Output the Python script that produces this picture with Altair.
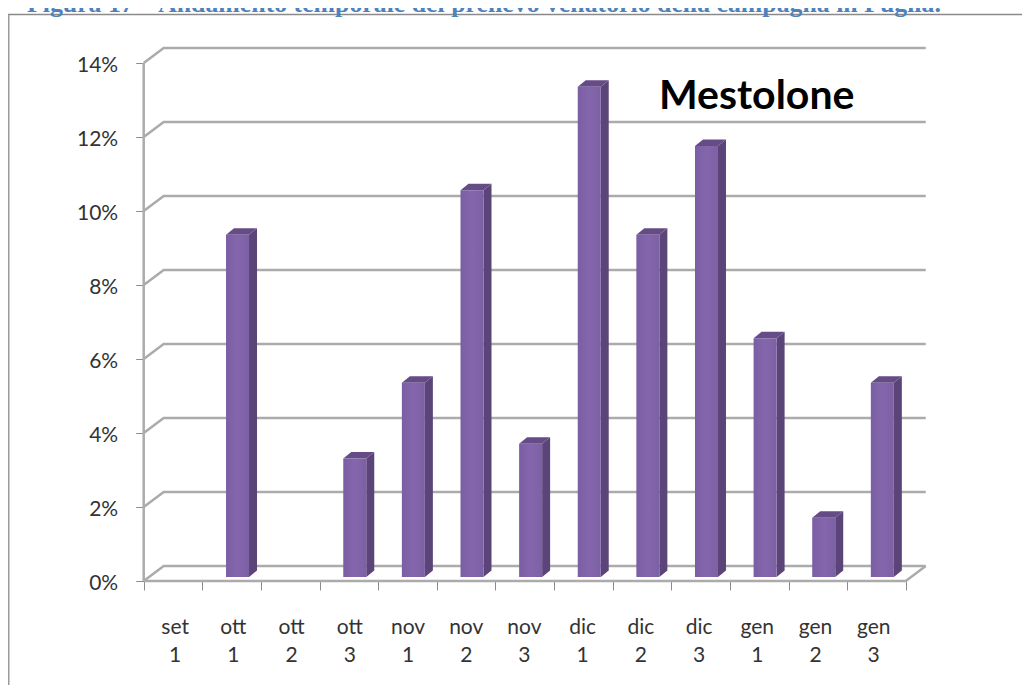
import altair as alt
import pandas as pd

# Data
months = ["set", "ott", "ott", "ott", "nov", "nov", "nov", "dic", "dic", "dic", "gen", "gen", "gen"]
decades = [1, 1, 2, 3, 1, 2, 3, 1, 2, 3, 1, 2, 3]
values = [0, 9.25, 0, 3.2, 5.25, 10.45, 3.6, 13.25, 9.25, 11.65, 6.45, 1.6, 5.25]
y_ticks = [0, 2, 4, 6, 8, 10, 12, 14]
title_text = "Figura 17 – Andamento temporale del prelievo venatorio della campagna in Puglia."
series_name = "Mestolone"

# Canvas and scale set-up (page pixels -> data units)
W, H = 1014, 677
ORIGIN_X, ORIGIN_Y, STEP_X, STEP_Y = 143.7, 581.0, 58.62, 37.0
PAGE = 8
u = lambda px: px / STEP_X
v = lambda px: px / STEP_Y
x_scale = alt.Scale(domain=[(PAGE - ORIGIN_X) / STEP_X, (PAGE + W - ORIGIN_X) / STEP_X], range=[0, W], nice=False, zero=False)
y_scale = alt.Scale(domain=[(ORIGIN_Y - PAGE - H) / STEP_Y, (ORIGIN_Y - PAGE) / STEP_Y], range=[H, 0], nice=False, zero=False)
N = len(values)
WALL_X, WALL_Y = u(20), v(15)
BAR_L, BAR_W, DEPTH_X, DEPTH_Y, BAR_BASE = u(23.7), u(23), u(8), v(6.5), v(4)
GREY = "#ABABAB"
X = alt.X("x:Q", scale=x_scale, title=None)
Y = alt.Y("y:Q", scale=y_scale, title=None, stack=False)

# Axes (ticks and y labels), no own marks beyond them
axes = alt.Chart(pd.DataFrame({"x": list(range(N + 1)), "y": [y_ticks[i % len(y_ticks)] for i in range(N + 1)]})).mark_point(opacity=0).encode(
    x=alt.X("x:Q", scale=x_scale, title=None, axis=alt.Axis(orient="bottom", offset=ORIGIN_Y - PAGE - H, values=list(range(N + 1)), labels=False,
                                                 domain=False, grid=False, tickColor="#8C8C8C", tickSize=9, tickWidth=1)),
    y=alt.Y("y:Q", scale=y_scale, title=None, axis=alt.Axis(orient="left", offset=PAGE - ORIGIN_X, values=y_ticks, labelExpr="datum.value + '%'",
                                                 domain=False, grid=False, tickColor="#8C8C8C", tickSize=8, tickWidth=1,
                                                 labelPadding=18, labelOffset=2, labelFont="Lato", labelFontSize=21, labelColor="#333333")),
)

# Back-wall gridlines with the diagonal on the side wall
grid_rows = []
for t in y_ticks:
    grid_rows += [{"g": t, "o": 0, "x": 0, "y": t}, {"g": t, "o": 1, "x": WALL_X, "y": t + WALL_Y}, {"g": t, "o": 2, "x": N + WALL_X, "y": t + WALL_Y}]
grid = alt.Chart(pd.DataFrame(grid_rows)).mark_line(color=GREY, strokeWidth=2.5).encode(x=X, y=Y, detail="g:N", order="o:Q")

# Floor front edge, right diagonal, left wall
edge_rows = [{"g": "front", "o": 0, "x": 0, "y": 0}, {"g": "front", "o": 1, "x": N, "y": 0}, {"g": "front", "o": 2, "x": N + WALL_X, "y": WALL_Y},
             {"g": "wall", "o": 0, "x": 0, "y": 0}, {"g": "wall", "o": 1, "x": 0, "y": y_ticks[-1]}]
edges = alt.Chart(pd.DataFrame(edge_rows)).mark_line(color=GREY, strokeWidth=2.5).encode(x=X, y=Y, detail="g:N", order="o:Q")

# 3D bars built from the values
front_rows, side_rows, top_rows = [], [], []
for i, val in enumerate(values):
    if val <= 0:
        continue
    l = i + BAR_L
    r = l + BAR_W
    base = BAR_BASE
    top = BAR_BASE + val
    front_rows.append({"x": l, "x2": r, "y": base, "y2": top})
    side_rows += [{"b": i, "x": r, "y": base, "y2": top}, {"b": i, "x": r + DEPTH_X, "y": base + DEPTH_Y, "y2": top + DEPTH_Y}]
    top_rows += [{"b": i, "x": l, "y": top, "y2": top},
                 {"b": i, "x": l + DEPTH_X, "y": top, "y2": top + DEPTH_Y},
                 {"b": i, "x": r, "y": top, "y2": top + DEPTH_Y},
                 {"b": i, "x": r + DEPTH_X, "y": top + DEPTH_Y, "y2": top + DEPTH_Y}]

side = alt.Chart(pd.DataFrame(side_rows)).mark_area(color="#5A4478", interpolate="linear").encode(
    x=X, y=Y, y2="y2:Q", detail="b:N")
top_face = alt.Chart(pd.DataFrame(top_rows)).mark_area(color="#654C86", interpolate="linear").encode(
    x=X, y=Y, y2="y2:Q", detail="b:N")
front = alt.Chart(pd.DataFrame(front_rows)).mark_rect(
    color=alt.Gradient(gradient="linear", x1=0, x2=1, y1=0, y2=0,
                       stops=[alt.GradientStop(offset=0, color="#7A5EA3"),
                              alt.GradientStop(offset=0.5, color="#8466AC"),
                              alt.GradientStop(offset=1, color="#7C60A4")])
).encode(x=X, x2="x2:Q", y=Y, y2="y2:Q")

# Two-line category labels
cat_df = pd.DataFrame({"x": [0.52 + i * 0.993 for i in range(N)], "y": [v(ORIGIN_Y - 634) for _ in months],
                       "label": [f"{m}\n{d}" for m, d in zip(months, decades)]})
cats = alt.Chart(cat_df).mark_text(font="Lato", fontSize=21, color="#333333", lineBreak="\n", lineHeight=28, baseline="alphabetic", align="center", dx=1).encode(
    x=X, y=Y, text="label:N")

# Frame, series name and clipped figure caption
frame_top = alt.Chart(pd.DataFrame({"a": [1]})).mark_rule(color="#8A8A8A", strokeWidth=1.5).encode(x=alt.value(0), x2=alt.value(W), y=alt.value(6.5))
frame_left = alt.Chart(pd.DataFrame({"a": [1]})).mark_rule(color="#9A9A9A", strokeWidth=1.5).encode(x=alt.value(0.75), y=alt.value(6.5), y2=alt.value(H))
name = alt.Chart(pd.DataFrame({"t": [series_name]})).mark_text(font="Lato", fontWeight="bold", fontSize=41, color="#000000", align="left", baseline="alphabetic").encode(
    x=alt.value(651), y=alt.value(100.5), text="t:N")
caption = alt.Chart(pd.DataFrame({"t": [title_text]})).mark_text(font="Liberation Serif", fontWeight="bold", fontSize=25.8, color="#4F81BD", align="left", baseline="alphabetic").encode(
    x=alt.value(19), y=alt.value(3.5), text="t:N")

chart = alt.layer(axes, grid, edges, side, top_face, front, cats, frame_top, frame_left, name, caption).properties(
    width=W, height=H, padding=0, background="white"
).configure_view(stroke=None)
chart = chart.properties(autosize=alt.AutoSizeParams(type="none"))
chart.save("out.html", embed_options={"renderer": "svg", "actions": False})
